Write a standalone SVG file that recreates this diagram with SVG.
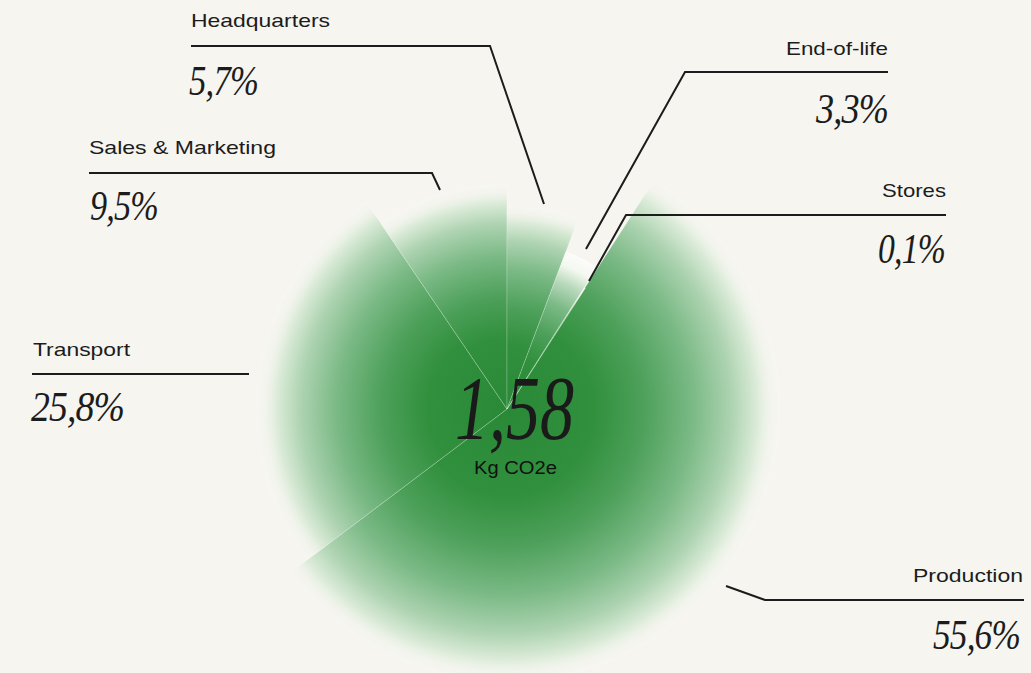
<svg xmlns="http://www.w3.org/2000/svg" width="1031" height="673" viewBox="0 0 1031 673">
  <style>
    .lbl { font-family: "Liberation Sans", Arial, sans-serif; font-size: 19px; fill: #1c1c1c; }
    .pct { font-family: "Liberation Serif", "Times New Roman", serif; font-style: italic; font-size: 43px; fill: #1c1c1c; letter-spacing: -1px; }
    .conn { fill: none; stroke: #1c1c1c; stroke-width: 2; }
    .wedge { stroke: #ffffff; stroke-opacity: 0.3; stroke-width: 0.7; }
  </style>
  <defs>
    <radialGradient id="gProd" gradientUnits="userSpaceOnUse" cx="507" cy="409" r="272">
      <stop offset="0" stop-color="#2a8936"/>
      <stop offset="0.32" stop-color="#31903d"/>
      <stop offset="0.5" stop-color="#4da05a"/>
      <stop offset="0.68" stop-color="#7ab985"/>
      <stop offset="0.82" stop-color="#abd2af"/>
      <stop offset="0.92" stop-color="#dbebd8"/>
      <stop offset="1" stop-color="#f7f7f2" stop-opacity="0"/>
    </radialGradient>
    <radialGradient id="gTrans" href="#gProd" r="250"/>
    <radialGradient id="gSales" href="#gProd" r="224"/>
    <radialGradient id="gHQ" href="#gProd" r="203"/>
    <radialGradient id="gEoL" gradientUnits="userSpaceOnUse" cx="507" cy="409" r="168">
      <stop offset="0" stop-color="#2a8936"/>
      <stop offset="0.32" stop-color="#31903d"/>
      <stop offset="0.5" stop-color="#4da05a"/>
      <stop offset="0.68" stop-color="#7ab985"/>
      <stop offset="0.82" stop-color="#b9d9bc"/>
      <stop offset="0.92" stop-color="#f3f8f0"/>
      <stop offset="1" stop-color="#fcfcfa"/>
    </radialGradient>
    <radialGradient id="gStores" href="#gEoL" r="145"/>
  </defs>
  <rect width="1031" height="673" fill="#f6f5f0"/>

  <g id="pie">
    <path id="wedge-production" class="wedge" fill="url(#gProd)" d="M507,409 L654.17,180.25 A272,272 0 1 1 289.94,572.99 Z"/>
    <path id="wedge-transport" class="wedge" fill="url(#gTrans)" d="M507,409 L307.55,559.73 A250,250 0 0 1 366.48,202.23 Z"/>
    <path id="wedge-sales" class="wedge" fill="url(#gSales)" d="M507,409 L381.09,223.73 A224,224 0 0 1 507,185 Z"/>
    <path id="wedge-hq" class="wedge" fill="url(#gHQ)" d="M507,409 L507,206 A203,203 0 0 1 578.15,218.87 Z"/>
    <path id="wedge-eol" class="wedge" fill="url(#gEoL)" d="M507,409 L565.88,251.65 A168,168 0 0 1 597.01,267.16 Z"/>
    <path id="wedge-stores" class="wedge" fill="url(#gStores)" d="M507,409 L584.69,287.58 A145,145 0 0 1 585.46,288.06 Z"/>
  </g>

  <g id="center">
    <text x="455" y="439" font-family="'Liberation Serif', 'Times New Roman', serif" font-style="italic" font-size="90" fill="#1a1a1a" textLength="119" lengthAdjust="spacingAndGlyphs">1,58</text>
    <text x="474" y="474" font-family="'Liberation Sans', Arial, sans-serif" font-size="18" fill="#111" textLength="83" lengthAdjust="spacingAndGlyphs">Kg CO2e</text>
  </g>

  <g id="connectors">
    <polyline class="conn" points="191,46 490,46 544,204"/>
    <polyline class="conn" points="89,173 432,173 440,190"/>
    <polyline class="conn" points="32,374 249,374"/>
    <polyline class="conn" points="888,72 685,72 586,249"/>
    <polyline class="conn" points="946,215 626,215 589,281"/>
    <polyline class="conn" points="726,586 765,600 1024,600"/>
  </g>

  <g id="label-headquarters">
    <text class="lbl" x="191" y="27" textLength="139" lengthAdjust="spacingAndGlyphs">Headquarters</text>
    <text class="pct" x="189" y="95" textLength="69" lengthAdjust="spacingAndGlyphs">5,7%</text>
  </g>
  <g id="label-sales">
    <text class="lbl" x="89" y="154" textLength="187" lengthAdjust="spacingAndGlyphs">Sales &amp; Marketing</text>
    <text class="pct" x="90" y="220" textLength="68" lengthAdjust="spacingAndGlyphs">9,5%</text>
  </g>
  <g id="label-transport">
    <text class="lbl" x="33" y="356" textLength="97" lengthAdjust="spacingAndGlyphs">Transport</text>
    <text class="pct" x="31" y="421" textLength="93" lengthAdjust="spacingAndGlyphs">25,8%</text>
  </g>
  <g id="label-eol">
    <text class="lbl" x="786" y="55" textLength="102" lengthAdjust="spacingAndGlyphs">End-of-life</text>
    <text class="pct" x="816" y="123" textLength="72" lengthAdjust="spacingAndGlyphs">3,3%</text>
  </g>
  <g id="label-stores">
    <text class="lbl" x="882" y="197" textLength="64" lengthAdjust="spacingAndGlyphs">Stores</text>
    <text class="pct" x="878" y="263" textLength="67" lengthAdjust="spacingAndGlyphs">0,1%</text>
  </g>
  <g id="label-production">
    <text class="lbl" x="913" y="582" textLength="110" lengthAdjust="spacingAndGlyphs">Production</text>
    <text class="pct" x="1020" y="649" text-anchor="end" font-size="41" letter-spacing="-1.5" textLength="87" lengthAdjust="spacingAndGlyphs">55,6%</text>
  </g>
</svg>
